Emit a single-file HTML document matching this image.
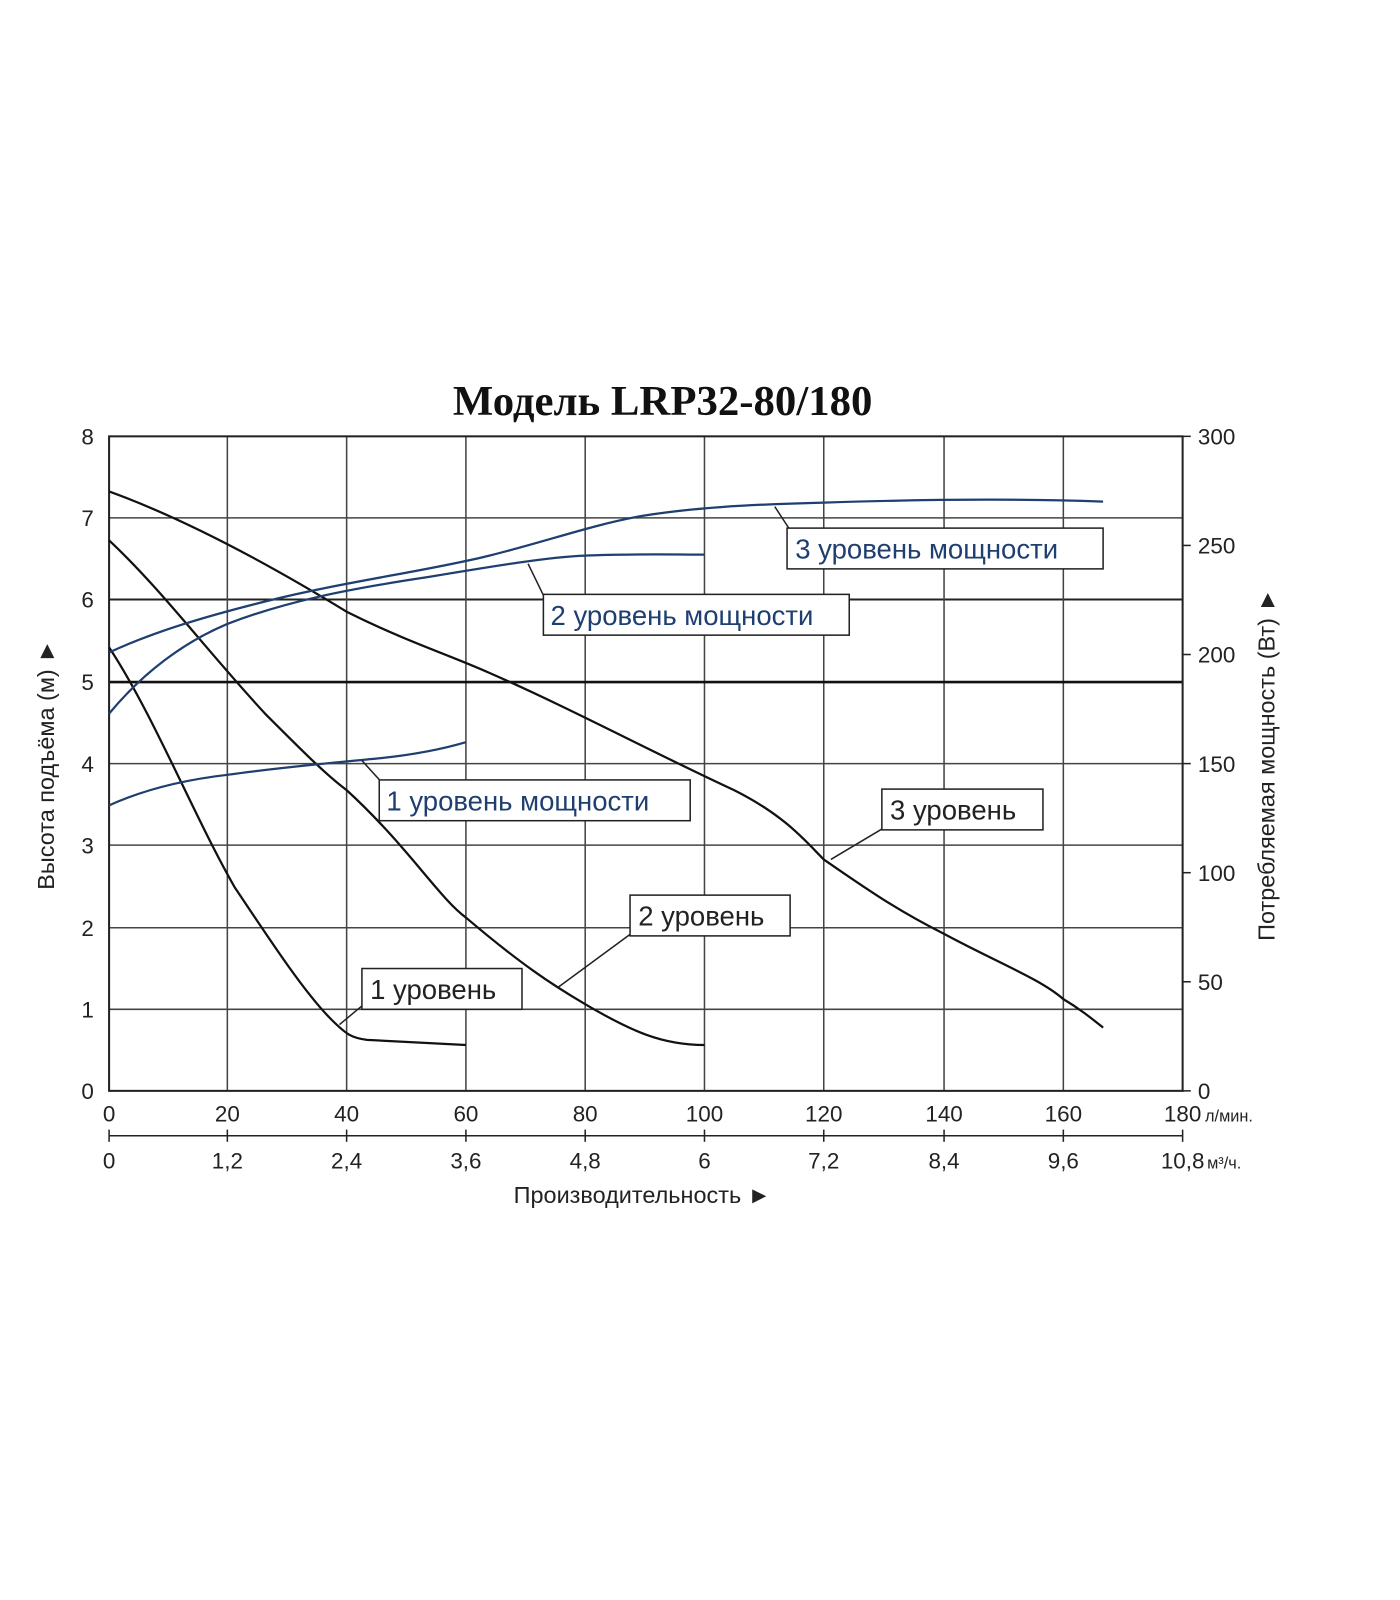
<!DOCTYPE html>
<html><head><meta charset="utf-8"><style>body{margin:0;background:#fff}svg{display:block}</style></head><body>
<svg width="1400" height="1600" viewBox="0 0 1400 1600" xmlns="http://www.w3.org/2000/svg" font-family="Liberation Sans, DejaVu Sans, sans-serif">
<rect width="1400" height="1600" fill="#fff"/>
<g transform="scale(1.0195)">
<text x="650" y="407" font-family="Liberation Serif, serif" font-weight="bold" font-size="42" text-anchor="middle" fill="#111">Модель LRP32-80/180</text>
<g stroke="#444" stroke-width="1.5" fill="none">
<line x1="107" y1="508" x2="1160" y2="508"/>
<line x1="107" y1="588" x2="1160" y2="588" stroke="#222" stroke-width="2"/>
<line x1="107" y1="749" x2="1160" y2="749"/>
<line x1="107" y1="829" x2="1160" y2="829"/>
<line x1="107" y1="910" x2="1160" y2="910"/>
<line x1="107" y1="990" x2="1160" y2="990"/>
<line x1="223" y1="428" x2="223" y2="1070"/>
<line x1="340" y1="428" x2="340" y2="1070"/>
<line x1="457" y1="428" x2="457" y2="1070"/>
<line x1="574" y1="428" x2="574" y2="1070"/>
<line x1="691" y1="428" x2="691" y2="1070"/>
<line x1="808" y1="428" x2="808" y2="1070"/>
<line x1="926" y1="428" x2="926" y2="1070"/>
<line x1="1043" y1="428" x2="1043" y2="1070"/>
</g>
<line x1="107" y1="669" x2="1160" y2="669" stroke="#111" stroke-width="2.5"/>
<rect x="107" y="428" width="1053" height="642" fill="none" stroke="#222" stroke-width="2"/>
<g stroke="#222" stroke-width="1.5">
<line x1="1160" y1="428" x2="1168" y2="428"/><line x1="1160" y1="535" x2="1168" y2="535"/><line x1="1160" y1="642" x2="1168" y2="642"/><line x1="1160" y1="749" x2="1168" y2="749"/><line x1="1160" y1="856" x2="1168" y2="856"/><line x1="1160" y1="963" x2="1168" y2="963"/><line x1="1160" y1="1070" x2="1168" y2="1070"/>
<line x1="107" y1="1114" x2="1160" y2="1114"/>
<line x1="107" y1="1108" x2="107" y2="1120"/><line x1="223" y1="1108" x2="223" y2="1120"/><line x1="340" y1="1108" x2="340" y2="1120"/><line x1="457" y1="1108" x2="457" y2="1120"/><line x1="574" y1="1108" x2="574" y2="1120"/><line x1="691" y1="1108" x2="691" y2="1120"/><line x1="808" y1="1108" x2="808" y2="1120"/><line x1="926" y1="1108" x2="926" y2="1120"/><line x1="1043" y1="1108" x2="1043" y2="1120"/><line x1="1160" y1="1108" x2="1160" y2="1120"/>
</g>
<g font-size="22" fill="#222" text-anchor="end">
<text x="92" y="436">8</text><text x="92" y="516">7</text><text x="92" y="596">6</text><text x="92" y="677">5</text><text x="92" y="757">4</text><text x="92" y="837">3</text><text x="92" y="918">2</text><text x="92" y="998">1</text><text x="92" y="1078">0</text>
</g>
<g font-size="22" fill="#222">
<text x="1175" y="436">300</text><text x="1175" y="543">250</text><text x="1175" y="650">200</text><text x="1175" y="757">150</text><text x="1175" y="864">100</text><text x="1175" y="971">50</text><text x="1175" y="1078">0</text>
</g>
<g font-size="22" fill="#222" text-anchor="middle">
<text x="107" y="1100">0</text><text x="223" y="1100">20</text><text x="340" y="1100">40</text><text x="457" y="1100">60</text><text x="574" y="1100">80</text><text x="691" y="1100">100</text><text x="808" y="1100">120</text><text x="926" y="1100">140</text><text x="1043" y="1100">160</text><text x="1160" y="1100">180</text>
<text x="107" y="1146">0</text><text x="223" y="1146">1,2</text><text x="340" y="1146">2,4</text><text x="457" y="1146">3,6</text><text x="574" y="1146">4,8</text><text x="691" y="1146">6</text><text x="808" y="1146">7,2</text><text x="926" y="1146">8,4</text><text x="1043" y="1146">9,6</text><text x="1160" y="1146">10,8</text>
</g>
<text x="1182" y="1100" font-size="16" fill="#222">л/мин.</text>
<text x="1184" y="1146" font-size="16" fill="#222">м³/ч.</text>
<text x="630" y="1180" font-size="23" fill="#222" text-anchor="middle">Производительность ►</text>
<text transform="translate(53,750) rotate(-90)" font-size="23" fill="#222" text-anchor="middle">Высота подъёма (м) ►</text>
<text transform="translate(1250,750) rotate(-90)" font-size="23" fill="#222" text-anchor="middle">Потребляемая мощность (Вт) ►</text>
<g fill="none" stroke="#111" stroke-width="2.2">
<path d="M107,482 C170,505 250,545 340,600 C400,630 440,642 480,660 C560,695 640,738 720,775 C770,800 790,825 808,843 C850,872 880,893 926,916 C980,945 1020,960 1043,980 C1060,990 1072,1000 1082,1008"/>
<path d="M107,530 C160,580 200,635 260,700 C300,740 320,760 340,775 C400,830 430,880 457,900 C510,945 540,965 574,985 C620,1012 650,1025 691,1025"/>
<path d="M107,635 C150,700 190,800 230,870 C270,930 300,975 325,1000 C340,1015 345,1018 360,1020 L457,1025"/>
</g>
<g fill="none" stroke="#1e3f70" stroke-width="2.2">
<path d="M107,640 C150,620 200,605 260,590 C340,570 420,560 480,545 C540,530 580,515 630,506 C680,498 730,495 808,493 C900,490 1000,489 1082,492"/>
<path d="M107,700 C140,660 180,630 223,612 C280,590 340,578 420,566 C480,556 540,546 574,545 C620,543 660,544 691,544"/>
<path d="M107,790 C140,775 180,765 223,760 C280,752 330,748 370,744 C410,740 440,733 457,728"/>
</g>
<g stroke="#222" stroke-width="1.5" fill="none">
<line x1="760" y1="497" x2="775" y2="520"/>
<line x1="518" y1="553" x2="535" y2="588"/>
<line x1="355" y1="746" x2="375" y2="768"/>
<line x1="815" y1="843" x2="867" y2="812"/>
<line x1="548" y1="968" x2="620" y2="915"/>
<line x1="333" y1="1005" x2="357" y2="985"/>
</g>
<g stroke="#222" stroke-width="1.5" fill="#fff">
<rect x="772" y="518" width="310" height="40"/>
<rect x="533" y="583" width="300" height="40"/>
<rect x="372" y="765" width="305" height="40"/>
<rect x="865" y="774" width="158" height="40"/>
<rect x="618" y="878" width="157" height="40"/>
<rect x="355" y="950" width="157" height="40"/>
</g>
<g font-size="27" fill="#1e3f70">
<text x="780" y="548">3 уровень мощности</text>
<text x="540" y="613">2 уровень мощности</text>
<text x="379" y="795">1 уровень мощности</text>
</g>
<g font-size="27" fill="#222">
<text x="873" y="804">3 уровень</text>
<text x="626" y="908">2 уровень</text>
<text x="363" y="980">1 уровень</text>
</g>
</g>
</svg>
</body></html>
